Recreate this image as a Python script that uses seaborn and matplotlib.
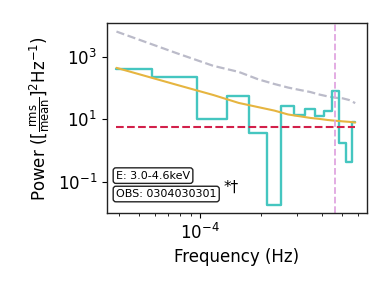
import numpy as np
import pandas as pd
import matplotlib
matplotlib.use("Agg")
import matplotlib.pyplot as plt
import seaborn as sns
from matplotlib.ticker import LogLocator, NullLocator

# frequencies of the periodogram bins (Hz)
freq = [3.88e-05, 7.76e-05, 1.164e-04, 1.552e-04, 1.94e-04, 2.328e-04, 2.716e-04,
        3.104e-04, 3.492e-04, 3.88e-04, 4.268e-04, 4.656e-04, 5.044e-04, 5.432e-04, 5.82e-04]
# observed power
power = [407, 221, 10, 56, 3.6, 0.018, 26.7, 14, 21, 12.8, 18.8, 82, 1.7, 0.42, 8.4]
# best fit model
model = [445, 125, 60, 33.5, 24.5, 19, 14.3, 12.5, 11.1, 10.3, 9.5, 9.0, 8.6, 8.3, 7.9]
# upper significance curve
upper = [6450, 1280, 515, 330, 190, 135, 104, 87, 75, 62, 54, 49, 47, 41.5, 33]
noise_level = 5.8
qpo_freq = 4.62e-4
yticks = [1e-1, 1e1, 1e3]

df = pd.DataFrame({"freq": freq, "power": power, "model": model, "upper": upper})

sns.set_style("ticks")
plt.rcParams["font.family"] = ["DejaVu Sans"]
plt.rcParams["text.color"] = "black"
plt.rcParams["axes.labelcolor"] = "black"
plt.rcParams["xtick.color"] = "black"
plt.rcParams["ytick.color"] = "black"

fig = plt.figure(figsize=(3.9, 2.93), dpi=100)
ax = fig.add_axes([0.274, 0.273, 0.667, 0.648])

sns.lineplot(data=df, x="freq", y="upper", ax=ax, color="#bbbbc9", lw=1.6, ls="--")
sns.lineplot(data=df, x="freq", y="power", ax=ax, color="#45c6c0", lw=1.7, drawstyle="steps-mid")
sns.lineplot(data=df, x="freq", y="model", ax=ax, color="#e6b540", lw=1.5)
ax.hlines(noise_level, freq[0], freq[-1], color="#d2204a", lw=1.5, ls="--")
ax.axvline(qpo_freq, color="#e0a6e0", lw=1.3, ls="--")

ax.set_xscale("log")
ax.set_yscale("log")
ax.set_xlim(3.48e-5, 6.65e-4)
ax.set_ylim(1.0e-2, 1.2e4)
ax.set_yticks(yticks)
ax.yaxis.set_minor_locator(NullLocator())
ax.xaxis.set_minor_locator(LogLocator(base=10, subs=np.arange(2, 10)))
ax.xaxis.set_minor_formatter(plt.NullFormatter())

ax.tick_params(axis="both", which="major", labelsize=12, length=3.5, width=0.8)
ax.tick_params(axis="both", which="minor", length=2, width=0.6)
for s in ax.spines.values():
    s.set_color("#222222")
    s.set_linewidth(1.0)

ax.set_xlabel("Frequency (Hz)", fontsize=12)
ax.set_ylabel(r"Power ($[\frac{\rm rms}{\rm mean}]^2$Hz$^{-1}$)", fontsize=12)

box = dict(boxstyle="round,pad=0.25", fc="white", ec="#222222", lw=1.0)
ax.text(0.035, 0.197, "E: 3.0-4.6keV", transform=ax.transAxes, fontsize=8,
        va="center", ha="left", bbox=box)
ax.text(0.035, 0.10, "OBS: 0304030301", transform=ax.transAxes, fontsize=8,
        va="center", ha="left", bbox=box)
ax.text(0.447, 0.135, "*†", transform=ax.transAxes, fontsize=11, va="center", ha="left")

fig.savefig("out.png", dpi=100)
